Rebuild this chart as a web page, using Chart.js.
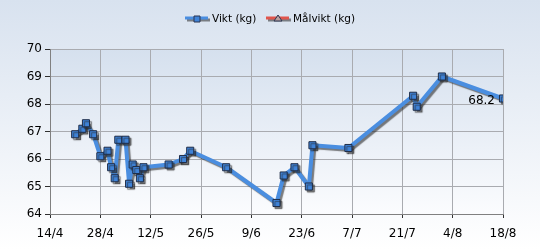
<!DOCTYPE html>
<html>
<head>
<meta charset="utf-8">
<script src="https://cdn.jsdelivr.net/npm/chart.js@4"></script>
<style>
  html, body { margin: 0; padding: 0; background: #fff; }
  #wrap { width: 540px; height: 250px; position: relative; }
</style>
</head>
<body>
<div id="wrap"><canvas id="grafico"></canvas></div>
<script>
// ===== Data =====
const datum = ['21/4', '23/4', '24/4', '26/4', '28/4', '30/4', '1/5', '2/5', '3/5', '5/5',
  '6/5', '7/5', '8/5', '9/5', '10/5', '17/5', '21/5', '23/5', '2/6', '16/6',
  '18/6', '21/6', '25/6', '26/6', '6/7', '24/7', '25/7', '1/8', '18/8'];
const vikt = [66.9, 67.1, 67.3, 66.9, 66.1, 66.3, 65.7, 65.3, 66.7, 66.7,
  65.1, 65.8, 65.6, 65.3, 65.7, 65.8, 66.0, 66.3, 65.7, 64.4,
  65.4, 65.7, 65.0, 66.5, 66.4, 68.3, 67.9, 69.0, 68.2];
const malvikt = [];
const xTicks = ['14/4', '28/4', '12/5', '26/5', '9/6', '23/6', '7/7', '21/7', '4/8', '18/8'];
const serier = ['Vikt (kg)', 'Målvikt (kg)'];
const farger = ['#4a8ee0', '#e0554c'];

const FONT = '"DejaVu Sans", sans-serif';

// ===== Utils =====
// dagar räknat från 14/4
const manadStart = { 4: -14, 5: 16, 6: 47, 7: 77, 8: 108 };
function tillDag(s) {
  const [d, m] = s.split('/').map(Number);
  return manadStart[m] + d;
}
const dagTillEtikett = {};
xTicks.forEach(t => { dagTillEtikett[tillDag(t)] = t; });

// ===== Plugins =====
const bakgrund = {
  id: 'bakgrund',
  beforeDraw(chart) {
    const { ctx, width, height, chartArea: a } = chart;
    ctx.save();
    let g = ctx.createLinearGradient(0, 0, 0, height);
    g.addColorStop(0, '#d8e2ef');
    g.addColorStop(1, '#ffffff');
    ctx.fillStyle = g;
    ctx.fillRect(0, 0, width, height);
    g = ctx.createLinearGradient(0, a.top, 0, a.bottom);
    g.addColorStop(0, '#d5e0ee');
    g.addColorStop(1, '#fbfcfe');
    ctx.fillStyle = g;
    ctx.fillRect(a.left, a.top, a.right - a.left, a.bottom - a.top);
    ctx.restore();
  }
};

const skugga = {
  id: 'skugga',
  beforeDatasetDraw(chart) {
    const ctx = chart.ctx;
    ctx.save();
    ctx.shadowColor = 'rgba(40,40,40,0.6)';
    ctx.shadowOffsetX = 2;
    ctx.shadowOffsetY = 2;
    ctx.shadowBlur = 1;
  },
  afterDatasetDraw(chart) {
    chart.ctx.restore();
  }
};

const forklaring = {
  id: 'forklaring',
  afterDraw(chart) {
    const ctx = chart.ctx;
    const y = 18;
    const poster = [
      { x: 185, farg: farger[0], text: serier[0], form: 'rect' },
      { x: 266, farg: farger[1], text: serier[1], form: 'triangle' }
    ];
    ctx.save();
    poster.forEach(p => {
      ctx.save();
      ctx.shadowColor = 'rgba(40,40,40,0.55)';
      ctx.shadowOffsetX = 2;
      ctx.shadowOffsetY = 2;
      ctx.strokeStyle = p.farg;
      ctx.lineWidth = 3;
      ctx.beginPath();
      ctx.moveTo(p.x, y);
      ctx.lineTo(p.x + 23, y);
      ctx.stroke();
      ctx.restore();
      const mx = p.x + 12;
      ctx.fillStyle = p.form === 'rect' ? '#3f83d8' : '#b9a0a0';
      ctx.strokeStyle = '#2a3550';
      ctx.lineWidth = 1;
      ctx.beginPath();
      if (p.form === 'rect') {
        ctx.rect(mx - 3, y - 2, 6, 6);
      } else {
        ctx.moveTo(mx, y - 3);
        ctx.lineTo(mx + 4, y + 3);
        ctx.lineTo(mx - 4, y + 3);
        ctx.closePath();
      }
      ctx.fill();
      ctx.stroke();
      ctx.fillStyle = '#000';
      ctx.font = '10.5px ' + FONT;
      ctx.textBaseline = 'middle';
      ctx.textAlign = 'left';
      ctx.fillText(p.text, p.x + 27, y + 1);
    });
    ctx.restore();
  }
};

const sistaVarde = {
  id: 'sistaVarde',
  afterDatasetsDraw(chart) {
    const meta = chart.getDatasetMeta(0);
    const pt = meta.data[meta.data.length - 1];
    const ctx = chart.ctx;
    ctx.save();
    ctx.fillStyle = '#000';
    ctx.font = '12px ' + FONT;
    ctx.textAlign = 'right';
    ctx.textBaseline = 'middle';
    ctx.fillText(vikt[vikt.length - 1].toFixed(1), pt.x - 8, pt.y + 2);
    ctx.restore();
  }
};

// ===== Chart =====
new Chart(document.getElementById('grafico'), {
  type: 'line',
  data: {
    datasets: [
      {
        label: serier[0],
        data: datum.map((d, i) => ({ x: tillDag(d), y: vikt[i] })),
        borderColor: farger[0],
        borderWidth: 4,
        borderJoinStyle: 'round',
        backgroundColor: '#3f83d8',
        pointStyle: 'rect',
        pointRadius: 5,
        pointBorderColor: '#1f2d48',
        pointBorderWidth: 1,
        tension: 0
      },
      {
        label: serier[1],
        data: malvikt,
        borderColor: farger[1],
        borderWidth: 4,
        pointStyle: 'triangle'
      }
    ]
  },
  options: {
    responsive: true,
    maintainAspectRatio: false,
    animation: false,
    layout: { padding: { top: 49, right: 37, left: 0, bottom: 0 } },
    plugins: {
      legend: { display: false },
      tooltip: { enabled: false }
    },
    scales: {
      x: {
        type: 'linear',
        min: 0,
        max: 126,
        afterBuildTicks: (scale) => {
          scale.ticks = xTicks.map(t => ({ value: tillDag(t) }));
        },
        afterFit: (scale) => { scale.height = 36; },
        ticks: {
          color: '#000',
          font: { family: FONT, size: 12 },
          padding: 9,
          maxRotation: 0,
          autoSkip: false,
          callback: (v) => dagTillEtikett[v] || ''
        },
        grid: { color: '#a9abb0', tickLength: 4, tickColor: '#303030' },
        border: { color: '#808080' }
      },
      y: {
        min: 64,
        max: 70,
        afterFit: (scale) => { scale.width = 50; },
        ticks: {
          stepSize: 1,
          color: '#000',
          font: { family: FONT, size: 12 },
          padding: 3
        },
        grid: { color: '#a9abb0', tickLength: 5, tickColor: '#303030' },
        border: { color: '#808080' }
      }
    }
  },
  plugins: [bakgrund, skugga, sistaVarde, forklaring]
});
</script>
</body>
</html>
